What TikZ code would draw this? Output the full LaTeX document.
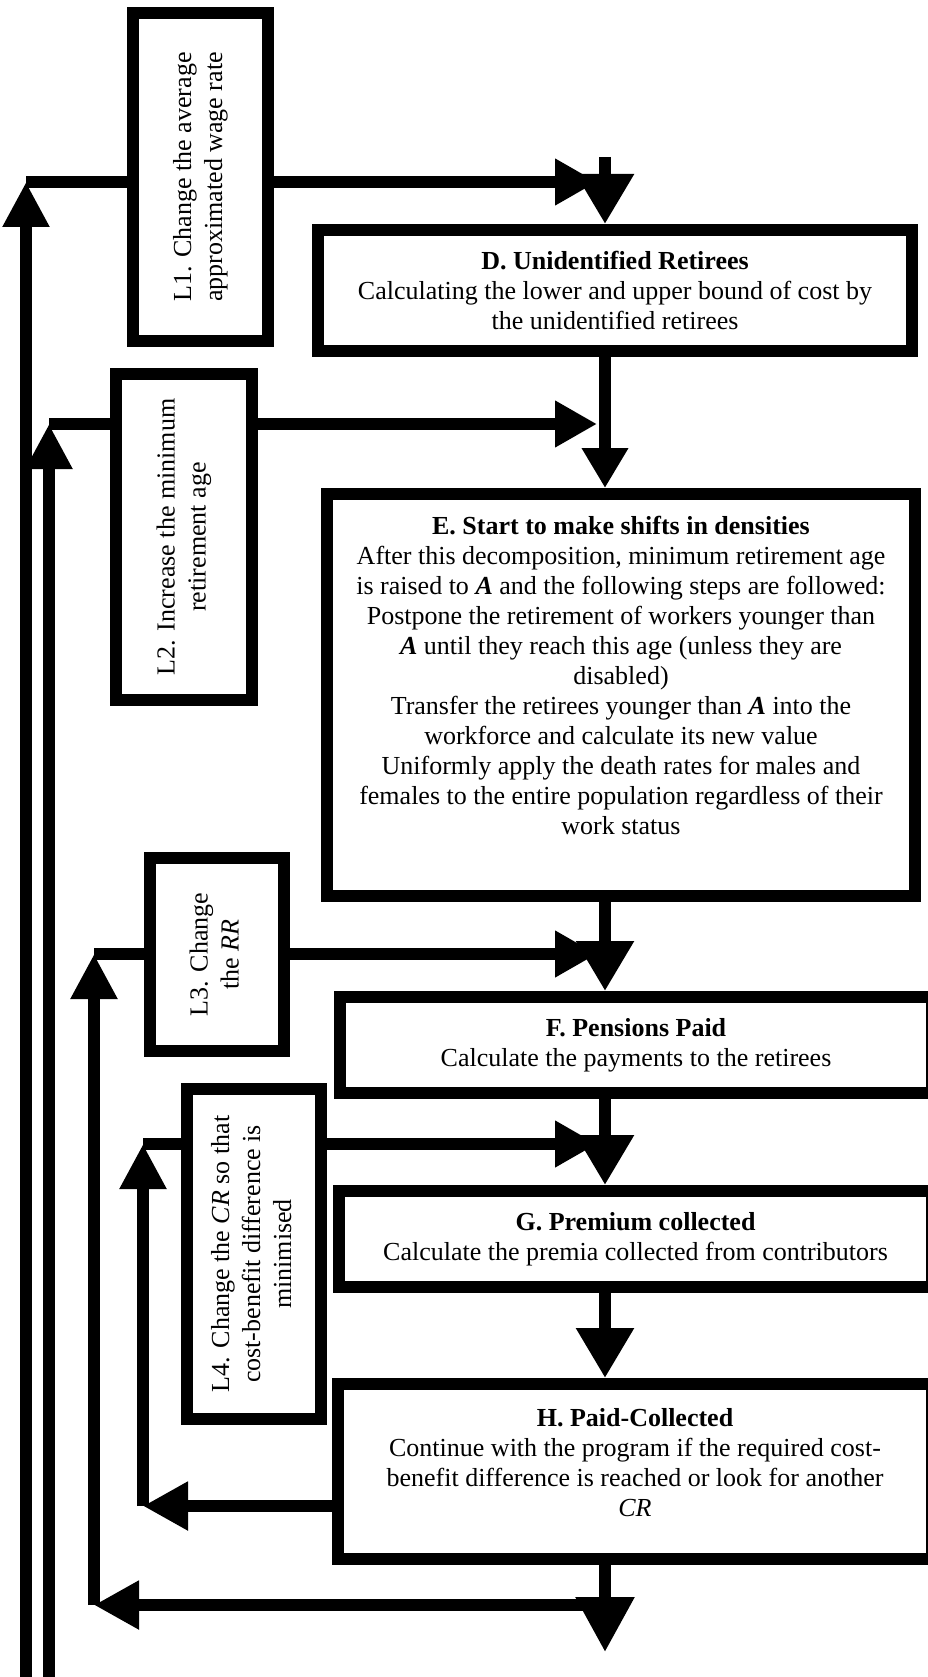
\documentclass[tikz,border=0pt]{standalone}
\usepackage{fontspec}
\setmainfont{Liberation Serif}
\usepackage{graphicx}
\usetikzlibrary{arrows.meta,calc}
\begin{document}
\begin{tikzpicture}[x=1pt,y=-1pt,
  box/.style={draw=black, line width=12pt, inner sep=0pt, align=center, font=\fontsize{26pt}{30pt}\selectfont},
  lbox/.style={draw=black, line width=12pt, inner sep=0pt, font=\fontsize{26pt}{31pt}\selectfont},
  conn/.style={line width=12pt, draw=black},
  bigtip/.style={-{Triangle[length=50pt,width=55pt]}},
  midtip/.style={-{Triangle[length=42pt,width=44pt]}},
  uptip/.style={-{Triangle[length=45pt,width=44pt]}},
  lefttip/.style={-{Triangle[length=45pt,width=46pt]}},
]
\fill[white] (0,0) rectangle (928,1677);
\useasboundingbox (0,0) rectangle (928,1677);

% main boxes
\node[box, minimum width=594pt, minimum height=121pt] (D) at (615,290.5)
  {\textbf{D. Unidentified Retirees}\\Calculating the lower and upper bound of cost by\\the unidentified retirees};
\node[box, minimum width=588pt, minimum height=402pt] (E) at (621,695)
  {\textbf{E. Start to make shifts in densities}\\
   After this decomposition, minimum retirement age\\
   is raised to \textbf{\textit{A}} and the following steps are followed:\\
   Postpone the retirement of workers younger than\\
   \textbf{\textit{A}} until they reach this age (unless they are\\
   disabled)\\
   Transfer the retirees younger than \textbf{\textit{A}} into the\\
   workforce and calculate its new value\\
   Uniformly apply the death rates for males and\\
   females to the entire population regardless of their\\
   work status\\[10pt]\mbox{}};
\node[box, minimum width=592pt, minimum height=96pt] (F) at (636,1045)
  {\textbf{F. Pensions Paid}\\Calculate the payments to the retirees};
\node[box, minimum width=593pt, minimum height=96pt] (G) at (635.5,1239)
  {\textbf{G. Premium collected}\\Calculate the premia collected from contributors};
\node[box, minimum width=594pt, minimum height=175pt] (H) at (635,1471.5)
  {\textbf{H. Paid-Collected}\\Continue with the program if the required cost-\\benefit difference is reached or look for another\\\textit{CR}\\[-12pt]\mbox{}};

% loop boxes
\node[lbox, minimum width=135pt, minimum height=328pt] (L1) at (200.5,177)
  {\rotatebox{90}{\begin{tabular}{@{}c@{}}L1. Change the average\\approximated wage rate\end{tabular}}};
\node[lbox, minimum width=136pt, minimum height=326pt] (L2) at (184,537)
  {\rotatebox{90}{\begin{tabular}{@{}c@{}}L2. Increase the minimum\\retirement age\end{tabular}}};
\node[lbox, minimum width=134pt, minimum height=193pt] (L3) at (217,954.5)
  {\rotatebox{90}{\begin{tabular}{@{}c@{}}L3. Change\\the \textit{RR}\end{tabular}}};
\node[lbox, minimum width=134pt, minimum height=330pt] (L4) at (254,1254)
  {\rotatebox{90}{\begin{tabular}{@{}c@{}}L4. Change the \textit{CR} so that\\cost-benefit difference is\\minimised\end{tabular}}};

% main flow
\coordinate (ax0) at (605,157);
\coordinate (axend) at (605,1652);
\draw[conn, bigtip] (ax0) -- (ax0 |- D.north);
\draw[conn, -{Triangle[length=40pt,width=44pt]}] (ax0 |- D.south) -- (ax0 |- E.north);
\draw[conn, bigtip] (ax0 |- E.south) -- (ax0 |- F.north);
\draw[conn, bigtip] (ax0 |- F.south) -- (ax0 |- G.north);
\draw[conn, bigtip] (ax0 |- G.south) -- (ax0 |- H.north);
\draw[conn, -{Triangle[length=55pt,width=56pt]}] (ax0 |- H.south) -- (axend);

% loop 1
\coordinate (k1) at (26,182);
\coordinate (b1) at (26,1690);
\coordinate (a1) at (597,182);
\draw[conn, uptip] (b1) -- (k1);
\draw[conn] (k1) -- (k1 -| L1.west);
\draw[conn, midtip] (k1 -| L1.east) -- (a1);

% loop 2
\coordinate (k2) at (49,424);
\coordinate (b2) at (49,1690);
\coordinate (a2) at (597,424);
\draw[conn, uptip] (b2) -- (k2);
\draw[conn] (k2) -- (k2 -| L2.west);
\draw[conn, midtip] (k2 -| L2.east) -- (a2);

% loop 3
\coordinate (k3) at (94,954);
\coordinate (j3) at (94,1605);
\coordinate (a3) at (597,954);
\draw[conn, lefttip] (ax0 |- j3) -- (j3);
\draw[conn, uptip] (j3) -- (k3);
\draw[conn] (k3) -- (k3 -| L3.west);
\draw[conn, midtip] (k3 -| L3.east) -- (a3);

% loop 4
\coordinate (k4) at (143,1144);
\coordinate (j4) at (143,1506);
\coordinate (a4) at (597,1144);
\draw[conn, lefttip] (H.west |- j4) -- (j4);
\draw[conn, uptip] (j4) -- (k4);
\draw[conn] (k4) -- (k4 -| L4.west);
\draw[conn, midtip] (k4 -| L4.east) -- (a4);
\end{tikzpicture}
\end{document}
